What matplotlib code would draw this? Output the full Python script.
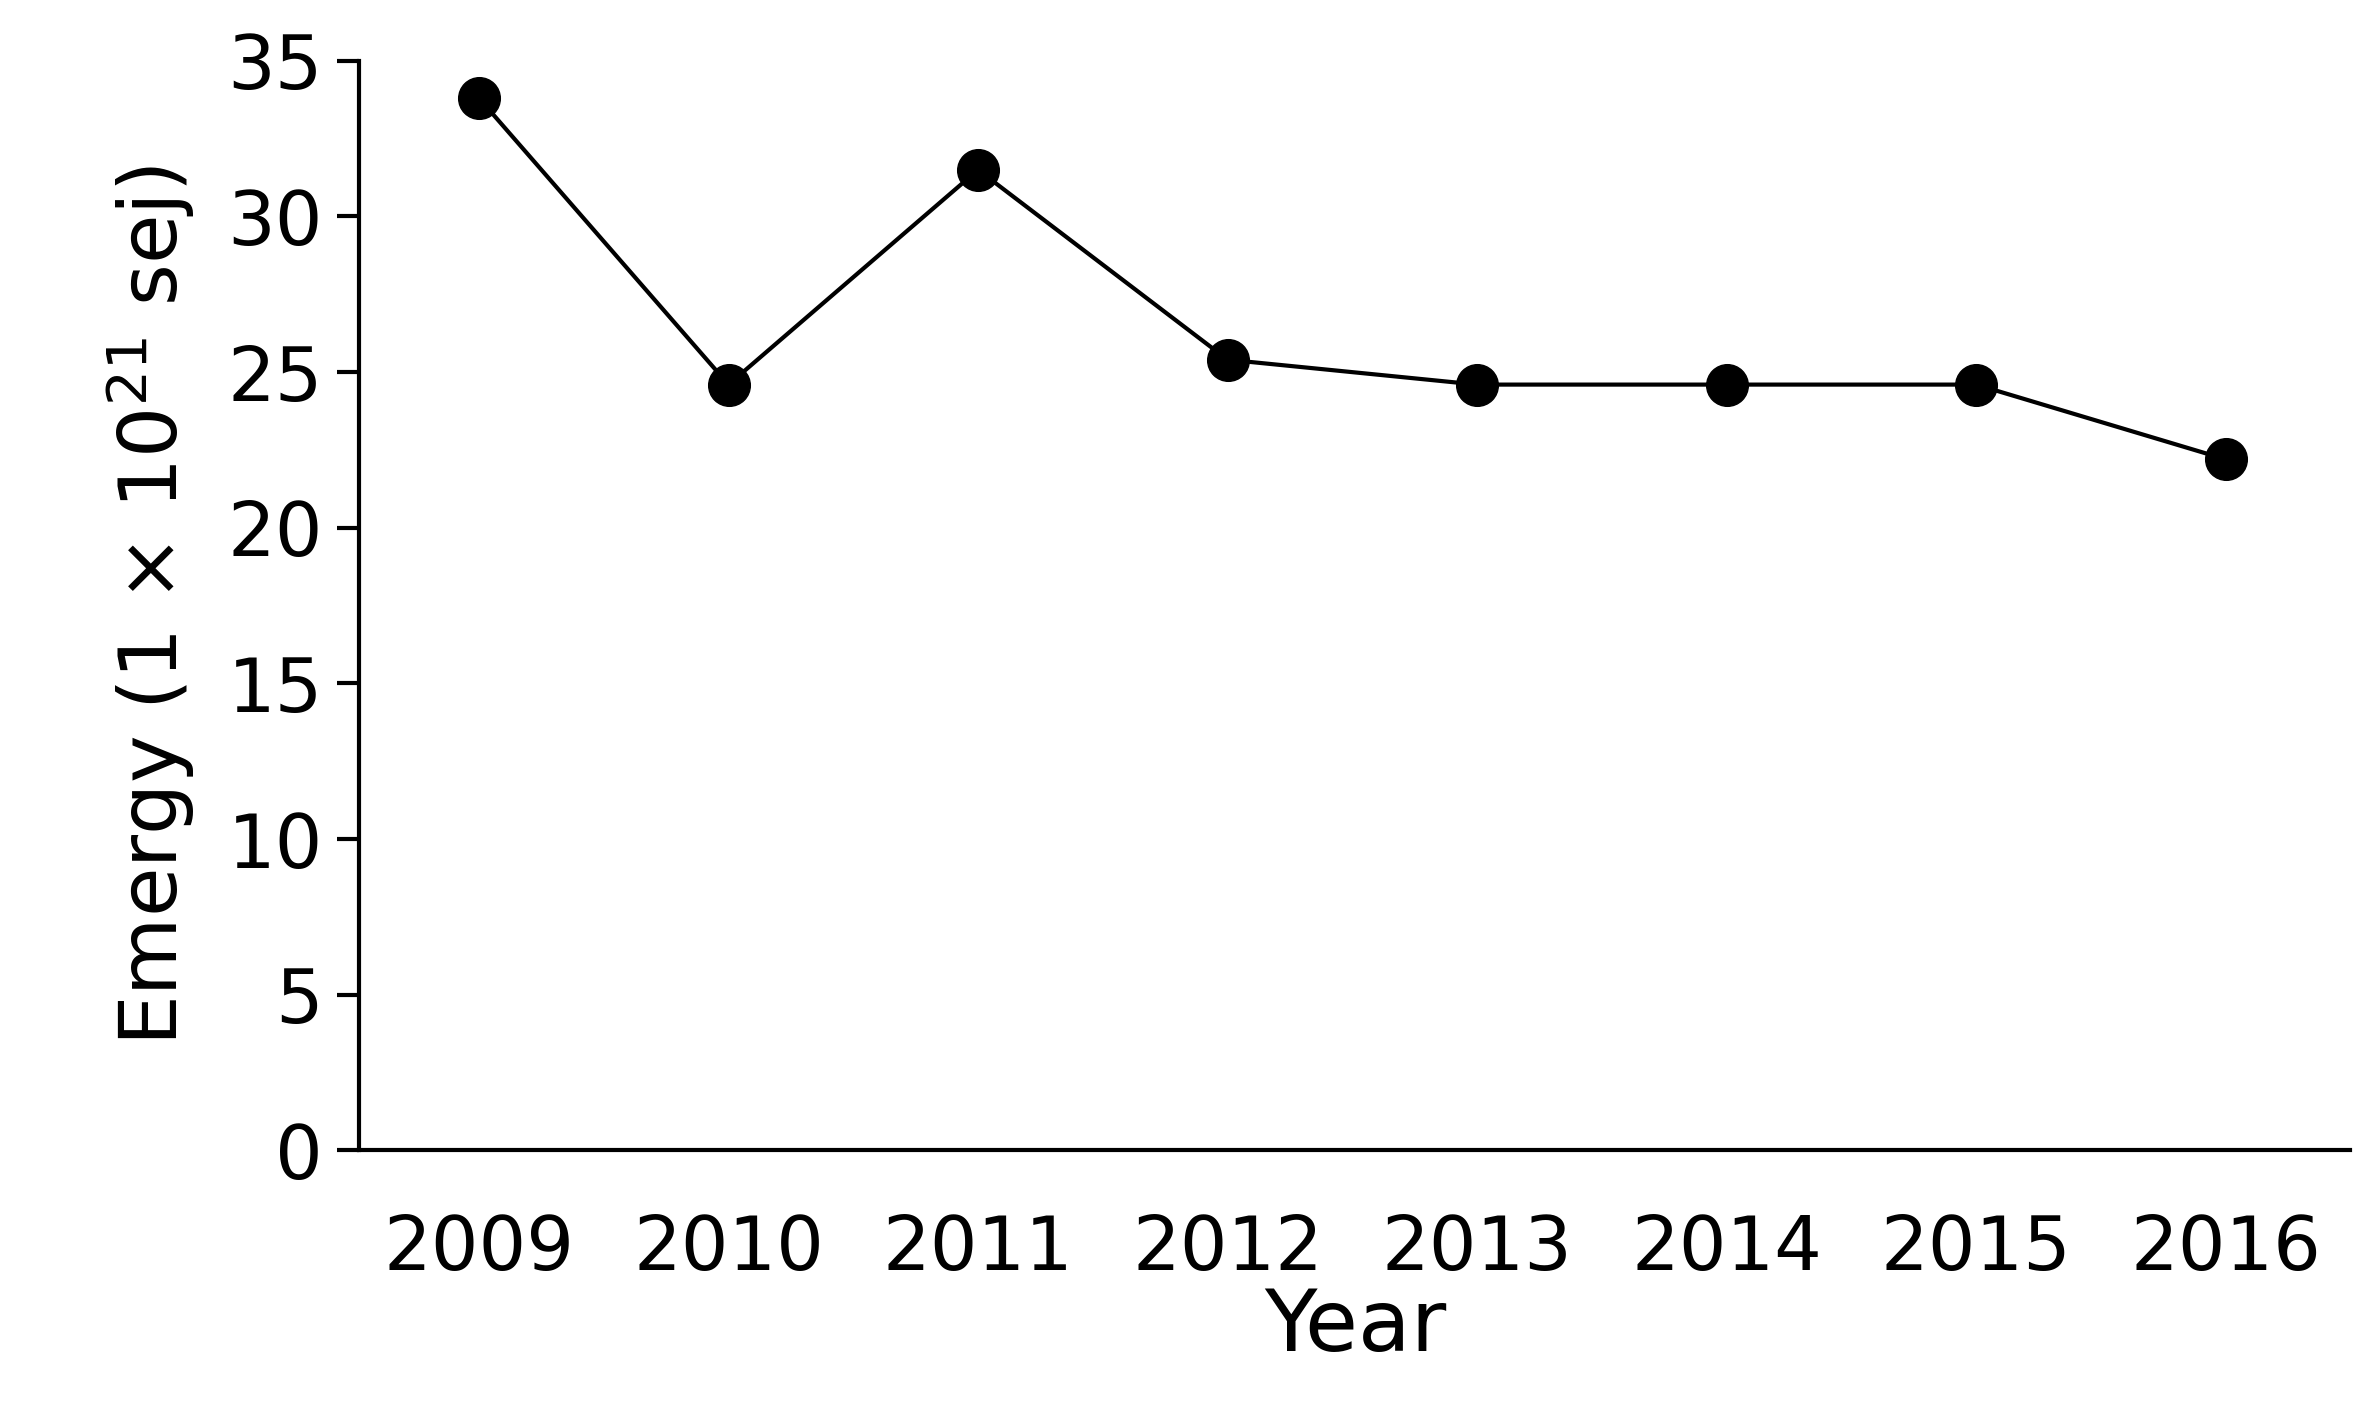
import matplotlib
matplotlib.use("Agg")
import matplotlib.pyplot as plt

years = ["2009", "2010", "2011", "2012", "2013", "2014", "2015", "2016"]
emergy = [33.8, 24.6, 31.5, 25.4, 24.6, 24.6, 24.6, 22.2]

fig = plt.figure(figsize=(23.79, 14.15), dpi=100)
ax = fig.add_axes([0.151, 0.187, 0.837, 0.770])
x = list(range(len(years)))
ax.plot(x, emergy, color="black", lw=3, marker="o", ms=30, clip_on=False)
ax.set_xlim(-0.48, 7.5)
ax.set_ylim(0, 35)
ax.set_yticks(range(0, 36, 5))
ax.set_xticks(x)
ax.set_xticklabels(years)
for s in ["top", "right"]:
    ax.spines[s].set_visible(False)
ax.spines["left"].set_linewidth(3)
ax.spines["bottom"].set_linewidth(3)
ax.tick_params(axis="y", length=16, width=3, labelsize=54, pad=10)
ax.tick_params(axis="x", length=0, labelsize=54, pad=45)
ax.set_xlabel("Year", fontsize=62, labelpad=0)
ax.set_ylabel(r"Emergy (1 $\times$ 10$^{21}$ sej)", fontsize=58, labelpad=22)
fig.savefig("out.png", dpi=100)
